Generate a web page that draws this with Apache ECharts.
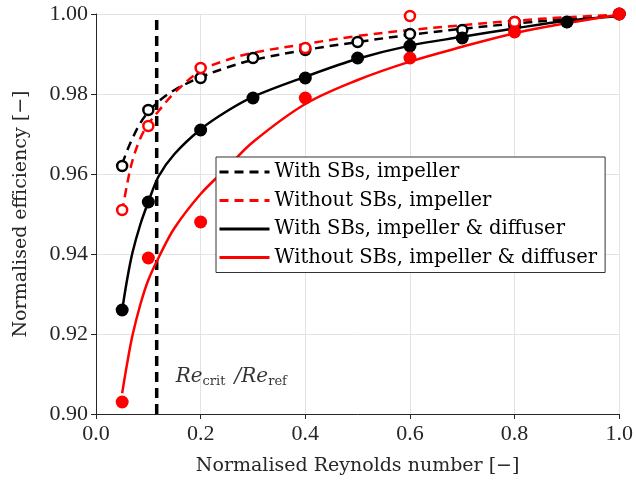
<!DOCTYPE html>
<html>
<head>
<meta charset="utf-8">
<script src="https://cdn.jsdelivr.net/npm/echarts@6/dist/echarts.min.js"></script>
<style>
html,body{margin:0;padding:0;background:#fff;}
#c{width:636px;height:487px;}
</style>
</head>
<body>
<div id="c"></div>
<script>
// ---- data ----
var curveX = [0.05, 0.06, 0.07, 0.085, 0.1, 0.12, 0.15, 0.2, 0.25, 0.3, 0.4, 0.5, 0.6, 0.7, 0.8, 0.9, 1.0];
var curveWithImp    = [0.9625, 0.9660, 0.9690, 0.9728, 0.9755, 0.9782, 0.9810, 0.9842, 0.9866, 0.9885, 0.9910, 0.9930, 0.9948, 0.9963, 0.9976, 0.9987, 0.9996];
var curveWithoutImp = [0.9505, 0.9578, 0.9635, 0.9690, 0.9725, 0.9758, 0.9803, 0.9858, 0.9885, 0.9903, 0.9925, 0.9945, 0.9960, 0.9972, 0.9983, 0.9992, 0.9998];
var curveWithAll    = [0.9260, 0.9340, 0.9405, 0.9475, 0.9530, 0.9595, 0.9650, 0.9712, 0.9757, 0.9793, 0.9843, 0.9888, 0.9921, 0.9943, 0.9964, 0.9983, 0.9995];
var curveWithoutAll = [0.9052, 0.9130, 0.9198, 0.9275, 0.9335, 0.9392, 0.9465, 0.9550, 0.9615, 0.9680, 0.9775, 0.9835, 0.9881, 0.9918, 0.9952, 0.9977, 0.9998];

var ptXWith    = [0.05, 0.1, 0.2, 0.3, 0.4, 0.5, 0.6, 0.7, 0.8, 0.9, 1.0];
var ptWithImp  = [0.962, 0.976, 0.984, 0.989, 0.991, 0.993, 0.995, 0.996, 0.998, 0.998, 1.0];
var ptWithAll  = [0.926, 0.953, 0.971, 0.979, 0.984, 0.989, 0.992, 0.994, 0.997, 0.998, 1.0];
var ptXWithout    = [0.05, 0.1, 0.2, 0.4, 0.6, 0.8, 1.0];
var ptWithoutImp  = [0.951, 0.972, 0.9865, 0.9915, 0.9995, 0.998, 1.0];
var ptWithoutAll  = [0.903, 0.939, 0.948, 0.979, 0.989, 0.9955, 1.0];

var reCrit = [0.116];
var legendNames = ['With SBs, impeller', 'Without SBs, impeller', 'With SBs, impeller & diffuser', 'Without SBs, impeller & diffuser'];
var xTicks = [0.0, 0.2, 0.4, 0.6, 0.8, 1.0];
var yTicks = [0.90, 0.92, 0.94, 0.96, 0.98, 1.00];

function zip(xs, ys) { return xs.map(function (x, i) { return [x, ys[i]]; }); }

var TICKFONT = 'Liberation Serif';
var TEXTFONT = 'DejaVu Serif';
var BLACK = '#000000', RED = '#ff0000';

function curve(name, ys, color, dashed) {
  return {
    name: name, type: 'line', data: zip(curveX, ys), symbol: 'none', showSymbol: false,
    smooth: 0.35, z: 3,
    lineStyle: { color: color, width: 2.5, type: dashed ? [9, 6] : 'solid' },
    itemStyle: { color: color }
  };
}
function points(name, xs, ys, color, open) {
  return {
    name: name, type: 'scatter', data: zip(xs, ys), symbol: 'circle',
    symbolSize: open ? 10 : 13, z: 4,
    itemStyle: open ? { color: '#ffffff', borderColor: color, borderWidth: 2.5, opacity: 1 }
                    : { color: color, opacity: 1 }
  };
}

var chart = echarts.init(document.getElementById('c'), null, { renderer: 'canvas' });
chart.setOption({
  animation: false,
  backgroundColor: '#ffffff',
  textStyle: { fontFamily: TICKFONT },
  grid: { left: 96, right: 15, top: 14, bottom: 73, containLabel: false },
  xAxis: {
    type: 'value', min: xTicks[0], max: xTicks[xTicks.length - 1], interval: 0.2,
    name: 'Normalised Reynolds number [\u2212]', nameLocation: 'middle', nameGap: 43,
    nameTextStyle: { fontFamily: TEXTFONT, fontSize: 19, color: '#262626' },
    axisLine: { show: true, lineStyle: { color: '#262626', width: 1 } },
    axisTick: { show: true, length: 5, lineStyle: { color: '#262626' } },
    axisLabel: { fontFamily: TICKFONT, fontSize: 22, color: '#262626', margin: 9,
      formatter: function (v) { return v.toFixed(1); } },
    splitLine: { show: true, lineStyle: { color: '#e3e3e3', width: 1 } }
  },
  yAxis: {
    type: 'value', min: yTicks[0], max: yTicks[yTicks.length - 1], interval: 0.02,
    name: 'Normalised efficiency [\u2212]', nameLocation: 'middle', nameGap: 65, nameRotate: 90,
    nameTextStyle: { fontFamily: TEXTFONT, fontSize: 19, color: '#262626' },
    axisLine: { show: true, lineStyle: { color: '#262626', width: 1 } },
    axisTick: { show: true, length: 5, lineStyle: { color: '#262626' } },
    axisLabel: { fontFamily: TICKFONT, fontSize: 22, color: '#262626', margin: 8,
      formatter: function (v) { return v.toFixed(2); } },
    splitLine: { show: true, lineStyle: { color: '#e3e3e3', width: 1 } }
  },
  legend: {
    data: legendNames, orient: 'vertical', left: 216, top: 157,
    itemWidth: 50, itemHeight: 14, itemGap: 8.5,
    backgroundColor: '#ffffff', borderColor: '#333333', borderWidth: 1,
    padding: [5, 8, 5, 2],
    itemStyle: { opacity: 0 },
    lineStyle: { width: 3 },
    textStyle: { fontFamily: TEXTFONT, fontSize: 19.5, color: '#000' }
  },
  series: [
    {
      name: 'Re_crit', type: 'line', data: [[reCrit[0], yTicks[0]], [reCrit[0], yTicks[yTicks.length - 1]]],
      symbol: 'none', z: 2, silent: true,
      lineStyle: { color: BLACK, width: 3.5, type: [10, 6] }
    },
    {
      name: 'label', type: 'scatter', symbolSize: 0, silent: true, z: 5,
      data: [[reCrit[0], 0.9092]],
      label: {
        show: true, position: 'right', distance: 19,
        formatter: '{i|Re}{s|crit}{sp| }{i|/Re}{s|ref}',
        rich: {
          i: { fontFamily: TEXTFONT, fontStyle: 'italic', fontSize: 20, color: '#000' },
          sp: { fontFamily: TEXTFONT, fontSize: 16, color: '#000', padding: [0, 4, 0, 0] },
          s: { fontFamily: TEXTFONT, fontSize: 13, color: '#000', verticalAlign: 'bottom', padding: [8, 0, 0, 0] }
        }
      }
    },
    curve(legendNames[0], curveWithImp, BLACK, true),
    curve(legendNames[1], curveWithoutImp, RED, true),
    curve(legendNames[2], curveWithAll, BLACK, false),
    curve(legendNames[3], curveWithoutAll, RED, false),
    points('pWithImp', ptXWith, ptWithImp, BLACK, true),
    points('pWithAll', ptXWith, ptWithAll, BLACK, false),
    points('pWithoutImp', ptXWithout, ptWithoutImp, RED, true),
    points('pWithoutAll', ptXWithout, ptWithoutAll, RED, false)
  ]
});
</script>
</body>
</html>
